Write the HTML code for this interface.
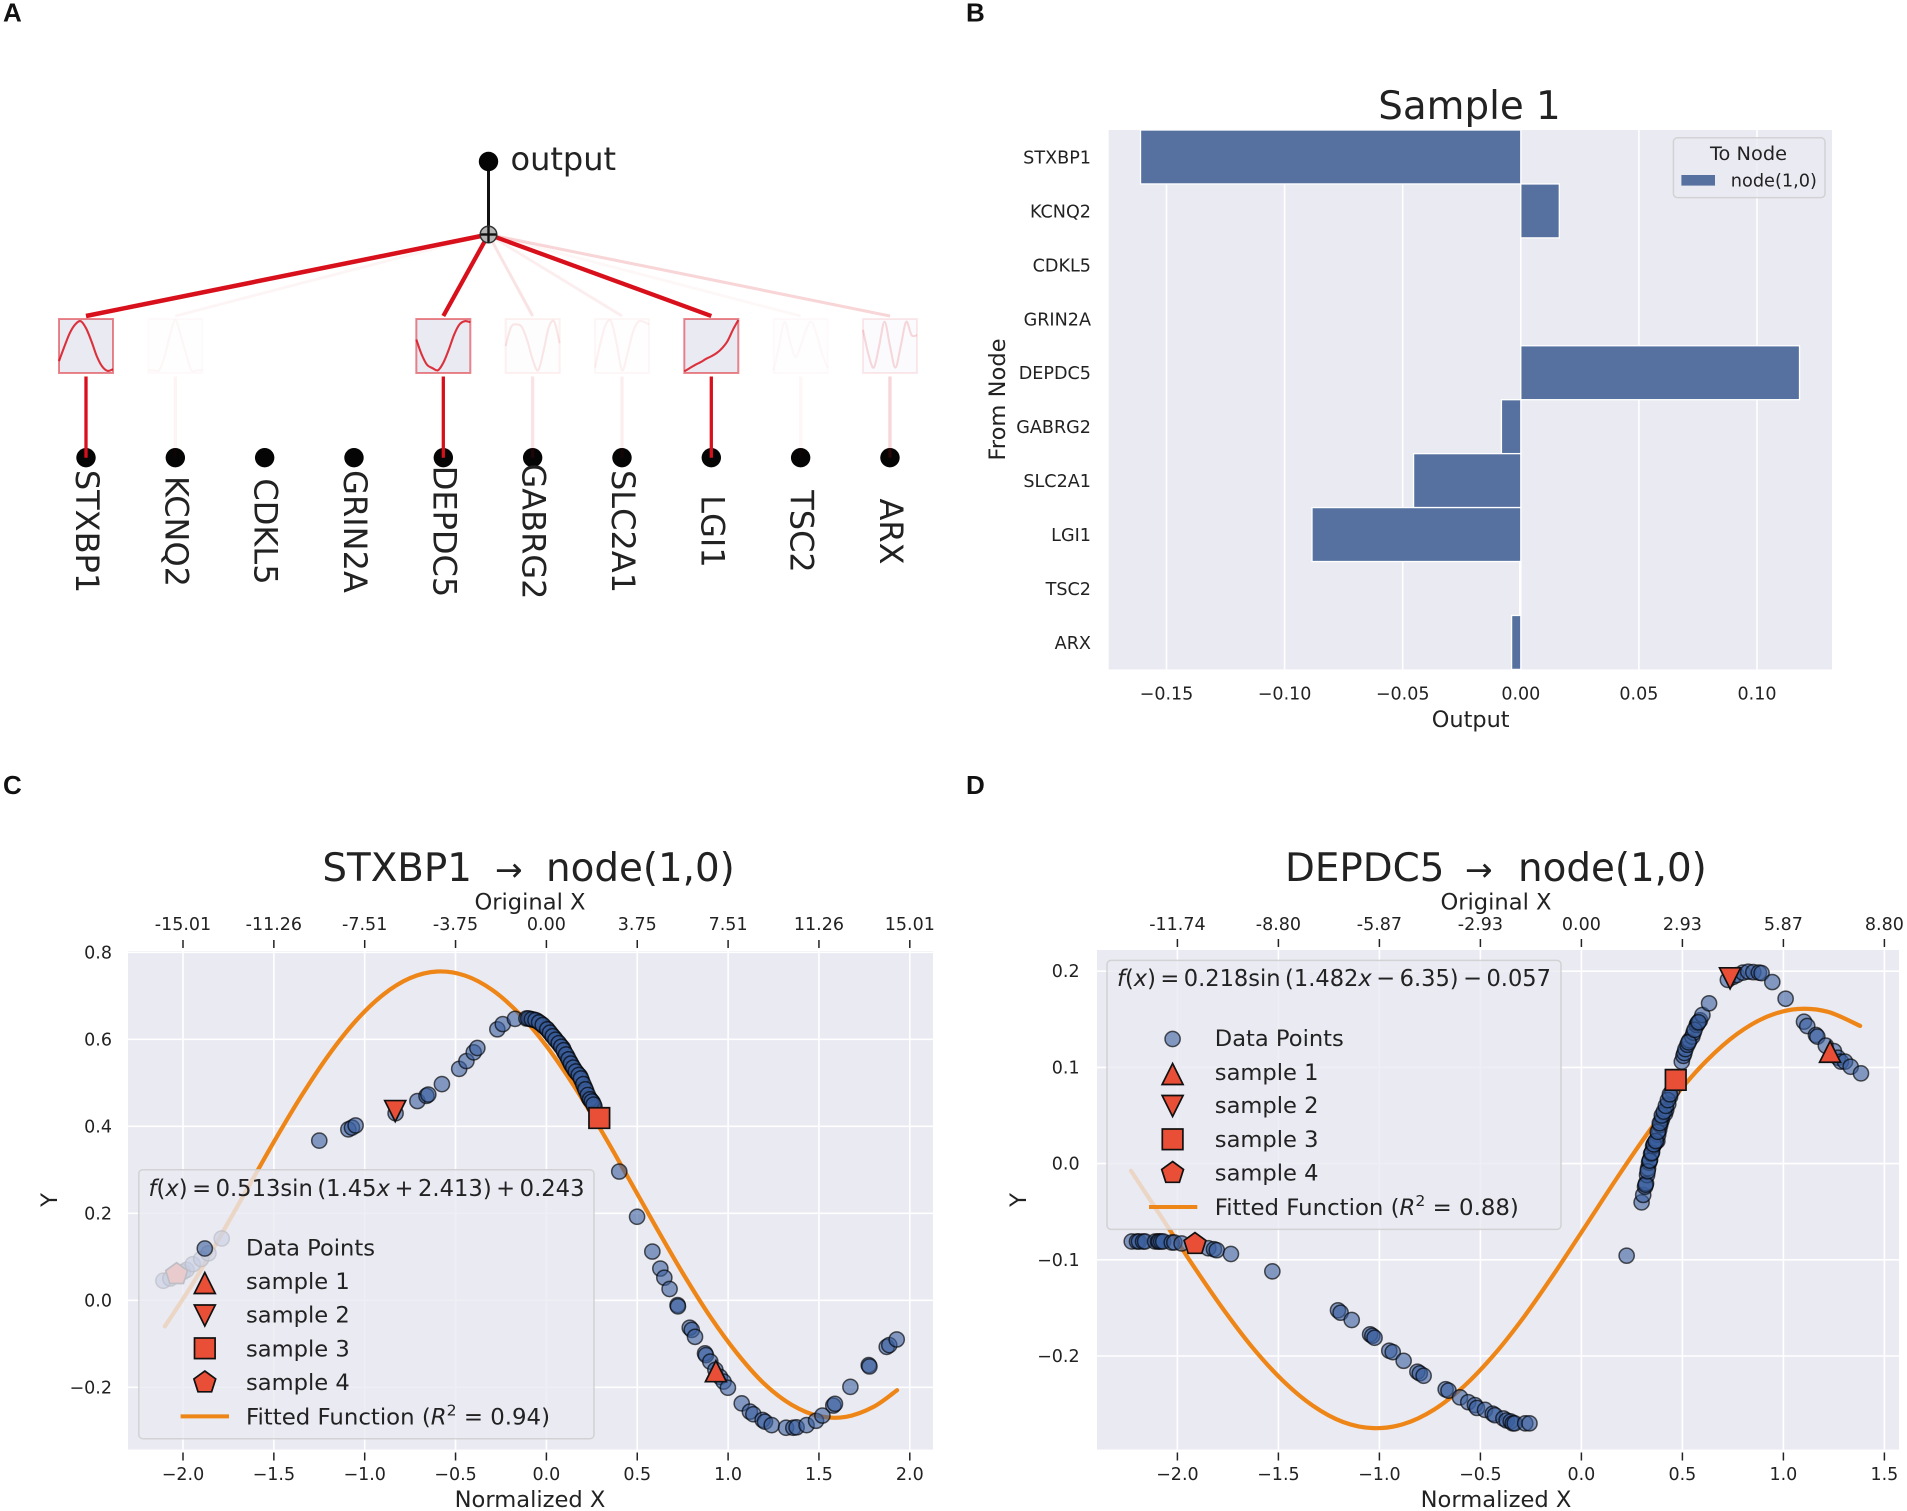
<!DOCTYPE html>
<html lang="en">
<head>
<meta charset="utf-8">
<title>KAN explanation figure</title>
<style>
html,body{margin:0;padding:0;background:#fff;}
svg{display:block;font-family:"DejaVu Sans","Liberation Sans",sans-serif;fill:#222;}
.panel-letter{font-family:"Liberation Sans",sans-serif;font-weight:bold;font-size:26px;fill:#111;}
.t22{font-size:22.6px;}
.title{font-size:38.8px;}
.mk{fill:#e94f37;stroke:#111;stroke-width:1.7;stroke-linejoin:miter;}
</style>
</head>
<body>
<svg id="fig" xmlns="http://www.w3.org/2000/svg" width="1907" height="1511" viewBox="0 0 1907 1511">
  <rect x="0" y="0" width="1907" height="1511" fill="#ffffff"/>
  <text class="panel-letter" x="3" y="21.5">A</text>
  <text class="panel-letter" x="966" y="21.5">B</text>
  <text class="panel-letter" x="3" y="794">C</text>
  <text class="panel-letter" x="966" y="794">D</text>

  <!-- Panel A -->
  <g id="panel-a">
    <g id="a-marks"></g>
    <line x1="488.5" y1="161" x2="488.5" y2="234" stroke="#111" stroke-width="3"/>
    <circle cx="488.5" cy="161.5" r="9.7" fill="#050505"/>
    <text x="510.5" y="170" font-size="32">output</text>
    <g>
      <circle cx="488.5" cy="234.5" r="8.3" fill="#b5b5b5" stroke="#333" stroke-width="1.5"/>
      <line x1="480.5" y1="234.5" x2="496.5" y2="234.5" stroke="#111" stroke-width="2.4"/>
      <line x1="488.5" y1="226.5" x2="488.5" y2="242.5" stroke="#111" stroke-width="2.4"/>
    </g>
  </g>

  <!-- Panel B -->
  <g id="panel-b">
    <text x="1469.5" y="119" text-anchor="middle" font-size="38.8">Sample 1</text>
    <rect x="1108.7" y="130" width="723.3" height="539.4" fill="#eaeaf2"/>
    <g id="b-marks"></g>
    <text x="1470.7" y="727" text-anchor="middle" font-size="22.4">Output</text>
    <text transform="translate(1005,399.5) rotate(-90)" text-anchor="middle" font-size="22.6">From Node</text>
    <g>
      <rect x="1673.4" y="137.8" width="151.6" height="59.8" rx="4" fill="#eaeaf2" fill-opacity="0.8" stroke="#cccccc" stroke-opacity="0.8" stroke-width="1.5"/>
      <text x="1748.5" y="160" text-anchor="middle" font-size="18.5" textLength="77" lengthAdjust="spacingAndGlyphs">To Node</text>
      <rect x="1681.4" y="175" width="33.6" height="10.6" fill="#56719f"/>
      <text x="1730.8" y="186.6" font-size="17.7">node(1,0)</text>
    </g>
  </g>

  <!-- Panel C -->
  <g id="panel-c">
    <text class="title" y="881"><tspan x="322.4">STXBP1</tspan><tspan x="495" font-size="33">→</tspan><tspan x="546">node(1,0)</tspan></text>
    <text class="t22" x="530" y="909.5" text-anchor="middle">Original X</text>
    <text class="t22" x="530" y="1507" text-anchor="middle">Normalized X</text>
    <text class="t22" transform="translate(57,1200) rotate(-90)" text-anchor="middle">Y</text>
    <rect x="128" y="951" width="805" height="498.5" fill="#eaeaf2"/>
    <g id="c-marks"></g>
    <g>
      <rect x="138.8" y="1169.7" width="455.2" height="269" rx="4" fill="#eaeaf2" fill-opacity="0.8" stroke="#cccccc" stroke-opacity="0.8" stroke-width="1.5"/>
      <text x="148.5" y="1196" font-size="23.4" textLength="436" lengthAdjust="spacingAndGlyphs"><tspan font-style="italic">f</tspan>(<tspan font-style="italic">x</tspan>)&#8201;=&#8201;0.513sin&#8201;(1.45<tspan font-style="italic">x</tspan>&#8201;+&#8201;2.413)&#8201;+&#8201;0.243</text>
      <circle cx="204.8" cy="1248.5" r="7.6" fill="#3b5f9f" fill-opacity="0.6" stroke="#000" stroke-opacity="0.65" stroke-width="1.5"/>
      <polygon class="mk" transform="translate(204.8,1283)" points="0,-10.5 10.5,10.5 -10.5,10.5"/>
      <polygon class="mk" transform="translate(204.8,1315.5)" points="0,10.5 10.5,-10.5 -10.5,-10.5"/>
      <rect class="mk" x="194.5" y="1338" width="20.6" height="20.6"/>
      <polygon class="mk" transform="translate(204.8,1382.5)" points="0,-11.5 10.9,-3.6 6.8,9.3 -6.8,9.3 -10.9,-3.6"/>
      <line x1="180.6" y1="1416.4" x2="229" y2="1416.4" stroke="#ee8517" stroke-width="4"/>
      <text class="t22" x="246" y="1255.6">Data Points</text>
      <text class="t22" x="246" y="1289">sample 1</text>
      <text class="t22" x="246" y="1322.7">sample 2</text>
      <text class="t22" x="246" y="1356.3">sample 3</text>
      <text class="t22" x="246" y="1389.9">sample 4</text>
      <text class="t22" x="246" y="1424.4" textLength="304" lengthAdjust="spacingAndGlyphs">Fitted Function (<tspan font-style="italic">R</tspan><tspan dy="-9" font-size="15.5">2</tspan><tspan dy="9"> = 0.94)</tspan></text>
    </g>
  </g>

  <!-- Panel D -->
  <g id="panel-d">
    <text class="title" y="881"><tspan x="1285">DEPDC5</tspan><tspan x="1465" font-size="33">→</tspan><tspan x="1518">node(1,0)</tspan></text>
    <text class="t22" x="1496" y="909.5" text-anchor="middle">Original X</text>
    <text class="t22" x="1496" y="1507" text-anchor="middle">Normalized X</text>
    <text class="t22" transform="translate(1026,1200) rotate(-90)" text-anchor="middle">Y</text>
    <rect x="1097" y="950" width="802" height="499.5" fill="#eaeaf2"/>
    <g id="d-marks"></g>
    <g>
      <rect x="1107" y="960.4" width="454" height="269" rx="4" fill="#eaeaf2" fill-opacity="0.8" stroke="#cccccc" stroke-opacity="0.8" stroke-width="1.5"/>
      <text x="1117" y="986" font-size="23.4" textLength="434" lengthAdjust="spacingAndGlyphs"><tspan font-style="italic">f</tspan>(<tspan font-style="italic">x</tspan>)&#8201;=&#8201;0.218sin&#8201;(1.482<tspan font-style="italic">x</tspan>&#8201;−&#8201;6.35)&#8201;−&#8201;0.057</text>
      <circle cx="1172.6" cy="1039" r="7.6" fill="#3b5f9f" fill-opacity="0.6" stroke="#000" stroke-opacity="0.65" stroke-width="1.5"/>
      <polygon class="mk" transform="translate(1172.6,1074)" points="0,-10.5 10.5,10.5 -10.5,10.5"/>
      <polygon class="mk" transform="translate(1172.6,1106)" points="0,10.5 10.5,-10.5 -10.5,-10.5"/>
      <rect class="mk" x="1162.3" y="1129" width="20.6" height="20.6"/>
      <polygon class="mk" transform="translate(1172.6,1173)" points="0,-11.5 10.9,-3.6 6.8,9.3 -6.8,9.3 -10.9,-3.6"/>
      <line x1="1149" y1="1207" x2="1197.3" y2="1207" stroke="#ee8517" stroke-width="4"/>
      <text class="t22" x="1214.8" y="1045.8">Data Points</text>
      <text class="t22" x="1214.8" y="1079.8">sample 1</text>
      <text class="t22" x="1214.8" y="1113">sample 2</text>
      <text class="t22" x="1214.8" y="1147">sample 3</text>
      <text class="t22" x="1214.8" y="1180.5">sample 4</text>
      <text class="t22" x="1214.8" y="1215" textLength="304" lengthAdjust="spacingAndGlyphs">Fitted Function (<tspan font-style="italic">R</tspan><tspan dy="-9" font-size="15.5">2</tspan><tspan dy="9"> = 0.88)</tspan></text>
    </g>
  </g>
</svg>

<script>
/* ---------- Panel A data ---------- */
const geneNames = ['STXBP1','KCNQ2','CDKL5','GRIN2A','DEPDC5','GABRG2','SLC2A1','LGI1','TSC2','ARX'];
const edgeWeights = [1, 0.035, 0, 0, 0.85, 0.1, 0.06, 0.9, 0.03, 0.15];
const miniCurves = [
  [0.22,0.49,0.74,0.90,0.96,0.83,0.59,0.31,0.12,0.04,0.07],
  [0.05,0.05,0.05,0.30,0.70,0.98,0.70,0.35,0.05,0.05,0.05],
  [],
  [],
  [0.62,0.34,0.15,0.09,0.05,0.19,0.43,0.71,0.90,0.96,0.94],
  [0.50,0.85,0.90,0.85,0.60,0.25,0.05,0.40,0.85,0.95,0.55],
  [0.10,0.55,0.90,0.95,0.55,0.05,0.35,0.75,0.95,0.95,0.90],
  [0.03,0.09,0.15,0.20,0.26,0.31,0.37,0.46,0.59,0.80,0.98],
  [0.05,0.50,0.95,0.60,0.30,0.50,0.80,0.95,0.70,0.35,0.10],
  [0.80,0.35,0.10,0.50,0.95,0.50,0.10,0.50,0.95,0.70,0.70]
];

/* ---------- Panel B data ---------- */
const barCategories = ['STXBP1','KCNQ2','CDKL5','GRIN2A','DEPDC5','GABRG2','SLC2A1','LGI1','TSC2','ARX'];
const barValues = [-0.161, 0.0163, 0, 0, 0.118, -0.0082, -0.0454, -0.0884, -0.0005, -0.0039];
const barTicks = [-0.15, -0.10, -0.05, 0, 0.05, 0.10];
const barTickLabels = ['−0.15','−0.10','−0.05','0.00','0.05','0.10'];

/* ---------- Panel C data ---------- */
const cXTicks = [-2,-1.5,-1,-0.5,0,0.5,1,1.5,2];
const cXTickLabels = ['−2.0','−1.5','−1.0','−0.5','0.0','0.5','1.0','1.5','2.0'];
const cTopTickLabels = ['-15.01','-11.26','-7.51','-3.75','0.00','3.75','7.51','11.26','15.01'];
const cYTicks = [-0.2,0,0.2,0.4,0.6,0.8];
const cYTickLabels = ['−0.2','0.0','0.2','0.4','0.6','0.8'];
const cPointsX = [-2.108,-2.07,-2.035,-2.0,-1.98,-1.946,-1.90,-1.86,-1.787,
  -1.25,-1.09,-1.07,-1.05,-0.83,-0.71,-0.66,-0.65,-0.575,-0.48,-0.44,-0.40,-0.38,-0.27,-0.24,-0.173,
  -0.11,-0.09,-0.07,-0.05,-0.03,-0.015,0,0.015,0.03,0.045,0.06,0.075,0.09,0.10,0.115,0.13,0.14,0.155,0.17,0.185,0.195,0.21,0.22,0.235,0.245,0.255,0.265,
  0.401,0.499,0.583,0.627,0.649,0.678,0.722,0.724,0.789,0.80,0.818,0.873,0.878,0.902,0.93,0.955,0.975,0.999,
  1.075,1.12,1.139,1.19,1.203,1.24,1.319,1.359,1.377,1.432,1.484,1.519,1.579,1.588,1.673,1.774,1.778,1.873,1.887,1.928,
  -0.10,-0.08,-0.06,-0.04,-0.02,0.005,0.02,0.035,0.05,0.068,0.082,0.095,0.108,0.122,0.135,0.148,0.162,0.178,0.19,0.203,0.215,0.228,0.24,0.25,0.26];
const cPointsY = [0.045,0.05,0.06,0.065,0.07,0.083,0.095,0.108,0.142,
  0.367,0.393,0.397,0.402,0.43,0.458,0.47,0.473,0.497,0.532,0.55,0.57,0.58,0.623,0.635,0.647,
  0.648,0.647,0.645,0.642,0.636,0.630,0.625,0.618,0.61,0.603,0.595,0.587,0.58,0.57,0.56,0.548,0.54,0.53,0.522,0.515,0.505,0.49,0.48,0.465,0.46,0.455,0.445,
  0.296,0.192,0.112,0.073,0.052,0.026,-0.011,-0.014,-0.063,-0.068,-0.084,-0.122,-0.126,-0.141,-0.16,-0.176,-0.187,-0.201,
  -0.237,-0.256,-0.262,-0.275,-0.279,-0.287,-0.293,-0.293,-0.292,-0.287,-0.277,-0.265,-0.242,-0.238,-0.199,-0.149,-0.152,-0.107,-0.103,-0.09,
  0.648,0.646,0.644,0.639,0.633,0.623,0.615,0.607,0.599,0.591,0.583,0.575,0.565,0.554,0.544,0.535,0.526,0.518,0.51,0.497,0.485,0.472,0.462,0.457,0.45];
const cFitX = [-2.10,-1.95,-1.80,-1.65,-1.50,-1.35,-1.20,-1.05,-0.90,-0.75,-0.60,-0.45,-0.30,-0.15,0,0.15,0.30,0.45,0.60,0.75,0.90,1.05,1.20,1.35,1.50,1.65,1.80,1.93];
const cFitY = [-0.060,0.036,0.143,0.2535,0.364,0.4687,0.5628,0.6419,0.702,0.7407,0.7558,0.7468,0.714,0.659,0.5845,0.4938,0.3917,0.282,0.1707,0.0628,-0.0365,-0.1223,-0.1923,-0.2402,-0.2662,-0.2678,-0.2451,-0.2067];
const cSampleX = [0.933,-0.832,0.291,-2.035];
const cSampleY = [-0.163,0.435,0.419,0.06];

/* ---------- Panel D data ---------- */
const dXTicks = [-2,-1.5,-1,-0.5,0,0.5,1,1.5];
const dXTickLabels = ['−2.0','−1.5','−1.0','−0.5','0.0','0.5','1.0','1.5'];
const dTopTickLabels = ['-11.74','-8.80','-5.87','-2.93','0.00','2.93','5.87','8.80'];
const dYTicks = [-0.2,-0.1,0,0.1,0.2];
const dYTickLabels = ['−0.2','−0.1','0.0','0.1','0.2'];
const dPointsX = [-2.226,-2.2,-2.19,-2.17,-2.16,-2.11,-2.096,-2.09,-2.08,-2.07,-2.028,-2.015,-1.979,
  -1.847,-1.819,-1.805,-1.735,-1.53,
  -1.205,-1.192,-1.137,-1.046,-1.035,-1.024,-0.951,-0.934,-0.88,-0.812,-0.80,-0.781,-0.672,-0.658,-0.601,-0.56,-0.527,-0.517,-0.477,-0.439,-0.428,-0.386,-0.37,-0.35,-0.34,-0.33,-0.278,-0.257,
  0.224,0.298,0.306,0.315,0.32,0.325,0.33,0.335,0.34,0.345,0.35,0.355,0.36,0.365,0.37,0.376,0.38,0.385,0.39,0.395,0.40,0.414,0.42,0.43,0.439,0.45,
  0.497,0.505,0.51,0.515,0.525,0.535,0.549,0.555,0.571,0.575,0.587,0.599,0.632,
  0.725,0.75,0.769,0.80,0.826,0.851,0.879,0.892,0.945,1.011,1.102,1.118,1.161,1.168,1.21,1.25,1.27,1.285,1.305,1.333,1.384,
  0.318,0.328,0.338,0.348,0.358,0.368,0.378,0.388,0.398,0.408,0.418,0.428,0.438,0.53,0.56,0.58];
const dPointsY = [-0.081,-0.081,-0.081,-0.081,-0.081,-0.081,-0.081,-0.081,-0.081,-0.081,-0.082,-0.082,-0.083,
  -0.088,-0.089,-0.09,-0.094,-0.112,
  -0.1525,-0.155,-0.1626,-0.1775,-0.179,-0.181,-0.1945,-0.196,-0.205,-0.2163,-0.218,-0.2205,-0.2346,-0.236,-0.243,-0.248,-0.251,-0.254,-0.256,-0.26,-0.2615,-0.265,-0.267,-0.268,-0.27,-0.27,-0.27,-0.27,
  -0.0957,-0.0403,-0.0326,-0.024,-0.0205,-0.012,-0.005,0.001,0.004,0.01,0.012,0.018,0.02,0.022,0.023,0.0235,0.03,0.035,0.04,0.044,0.047,0.052,0.056,0.062,0.0696,0.076,
  0.106,0.112,0.115,0.119,0.1235,0.128,0.132,0.136,0.144,0.146,0.149,0.1545,0.1666,
  0.191,0.194,0.196,0.1985,0.1995,0.199,0.1985,0.198,0.1887,0.1714,0.1475,0.143,0.1337,0.132,0.1226,0.117,0.11,0.106,0.106,0.1007,0.0938,
  -0.022,-0.008,0.003,0.011,0.02,0.0235,0.033,0.042,0.05,0.054,0.06,0.066,0.072,0.126,0.139,0.147];
const dFitX = [-2.23,-2.08,-1.93,-1.78,-1.63,-1.48,-1.33,-1.18,-1.03,-0.88,-0.73,-0.58,-0.43,-0.28,-0.13,0.02,0.17,0.32,0.47,0.62,0.77,0.92,1.07,1.22,1.38];
const dFitY = [-0.0074,-0.0553,-0.1035,-0.1493,-0.1907,-0.2252,-0.2516,-0.2686,-0.2750,-0.2707,-0.2558,-0.2312,-0.1981,-0.1581,-0.1129,-0.0651,-0.0169,0.0292,0.0714,0.1070,0.1346,0.1528,0.1607,0.1578,0.1431];
const dSampleX = [1.231,0.736,0.467,-1.913];
const dSampleY = [0.1163,0.1926,0.087,-0.0836];

/* ---------- helpers ---------- */
const SVG_NS = 'http://www.w3.org/2000/svg';
function make(tag, attrs, parent, text) {
  const e = document.createElementNS(SVG_NS, tag);
  for (const k in attrs) e.setAttribute(k, attrs[k]);
  if (text !== undefined) e.textContent = text;
  parent.appendChild(e);
  return e;
}
function linear(v0, p0, perUnit) {
  return function (v) { return p0 + (v - v0) * perUnit; };
}
function smoothPath(px, py) {
  let d = 'M' + px[0].toFixed(2) + ' ' + py[0].toFixed(2);
  for (let i = 0; i < px.length - 1; i++) {
    const a = Math.max(i - 1, 0), b = i + 1, c = Math.min(i + 2, px.length - 1);
    const c1x = px[i] + (px[b] - px[a]) / 6, c1y = py[i] + (py[b] - py[a]) / 6;
    const c2x = px[b] - (px[c] - px[i]) / 6, c2y = py[b] - (py[c] - py[i]) / 6;
    d += 'C' + c1x.toFixed(2) + ' ' + c1y.toFixed(2) + ' ' + c2x.toFixed(2) + ' ' + c2y.toFixed(2) + ' ' + px[b].toFixed(2) + ' ' + py[b].toFixed(2);
  }
  return d;
}

/* ---------- Panel A drawing ---------- */
(function drawNetwork() {
  const g = document.getElementById('a-marks');
  const RED = '#d8101c';
  const nodeX = function (i) { return 86 + i * 89.33; };
  const nodeY = 457.7, boxTop = 319, boxBottom = 373, boxSize = 54;
  geneNames.forEach(function (name, i) {
    const cx = nodeX(i), w = edgeWeights[i];
    const alpha = Math.min(1, w * 1.18);
    if (w > 0) {
      const upper = make('line', {x1: cx, y1: 316, x2: 488.5, y2: 234.5, stroke: RED, 'stroke-opacity': alpha, 'stroke-width': 2.8 + 1.7 * w}, g);
      
      
      const box = make('rect', {x: cx - boxSize / 2, y: boxTop, width: boxSize, height: boxSize, fill: '#eaeaf2', 'fill-opacity': alpha, stroke: RED, 'stroke-opacity': alpha * 0.5, 'stroke-width': 2}, g);
      
      
      const curve = miniCurves[i];
      const n = curve.length;
      const curveX = curve.map(function (v, k) { return cx - boxSize / 2 + k / (n - 1) * boxSize; });
      const curveY = curve.map(function (v) { return boxBottom - v * boxSize; });
      const spark = make('path', {d: smoothPath(curveX, curveY), fill: 'none', stroke: RED, 'stroke-opacity': alpha * 0.85, 'stroke-width': 2.1, 'stroke-linejoin': 'round'}, g);
      
      
    }
    const dot = make('circle', {cx: cx, cy: nodeY, r: 9.7, fill: '#050505'}, g);
    
    
    if (w > 0) {
      const lower = make('line', {x1: cx, y1: 376.5, x2: cx, y2: nodeY, stroke: RED, 'stroke-opacity': alpha, 'stroke-width': 3.3}, g);
      
      
    }
    const label = make('text', {transform: 'translate(' + (cx - 10) + ',531.5) rotate(90)', 'text-anchor': 'middle', 'font-size': 32}, g, name);
    
    
  });
})();

/* ---------- Panel B drawing ---------- */
(function drawBars() {
  const g = document.getElementById('b-marks');
  const x = linear(0, 1520.8, 2362);
  const top = 130, band = 53.94, bottom = 669.4;
  barTicks.forEach(function (t, i) {
    const grid = make('line', {x1: x(t), x2: x(t), y1: top, y2: bottom, stroke: '#fff', 'stroke-width': 1.6}, g);
    
    
    const lab = make('text', {x: x(t), y: 699.5, 'text-anchor': 'middle', 'font-size': 17.5}, g, barTickLabels[i]);
    
    
  });
  barCategories.forEach(function (name, i) {
    const v = barValues[i];
    const bar = make('rect', {x: Math.min(x(0), x(v)), y: top + i * band, width: Math.abs(x(v) - x(0)), height: band, fill: '#56719f', stroke: '#fff', 'stroke-width': 1.3}, g);
    
    
    const lab = make('text', {x: 1091, y: top + (i + 0.5) * band + 6.5, 'text-anchor': 'end', 'font-size': 17.6}, g, name);
    
    
  });
})();

/* ---------- Panels C, D drawing ---------- */
function drawScatter(id, prefix, box, xMap, yMap, xTicks, xLabels, topLabels, yTicks, yLabels, pointsX, pointsY, fitX, fitY, sampleX, sampleY, yLabelRight) {
  const g = document.getElementById(id);
  const x = linear(0, xMap[0], xMap[1]);
  const y = linear(0, yMap[0], -yMap[1]);
  xTicks.forEach(function (t, i) {
    const px = x(t);
    const grid = make('line', {x1: px, x2: px, y1: box.top, y2: box.bottom, stroke: '#fff', 'stroke-width': 1.6}, g);
    
    
    const t1 = make('line', {x1: px, x2: px, y1: box.bottom + 3, y2: box.bottom + 11, stroke: '#222', 'stroke-width': 1.5}, g);
    
    
    const t2 = make('line', {x1: px, x2: px, y1: box.top - 11, y2: box.top - 3, stroke: '#222', 'stroke-width': 1.5}, g);
    
    
    const l1 = make('text', {x: px, y: 1480, 'text-anchor': 'middle', 'font-size': 17.5}, g, xLabels[i]);
    
    
    const l2 = make('text', {x: px, y: 930, 'text-anchor': 'middle', 'font-size': 17.5}, g, topLabels[i]);
    
    
  });
  yTicks.forEach(function (t, i) {
    const py = y(t);
    const grid = make('line', {x1: box.left, x2: box.right, y1: py, y2: py, stroke: '#fff', 'stroke-width': 1.6}, g);
    
    
    const l = make('text', {x: yLabelRight, y: py + 6, 'text-anchor': 'end', 'font-size': 17.5}, g, yLabels[i]);
    
    
  });
  const fit = make('path', {d: smoothPath(fitX.map(x), fitY.map(y)), fill: 'none', stroke: '#ee8517', 'stroke-width': 4.2, 'stroke-linecap': 'round'}, g);
  
  
  pointsX.forEach(function (v, i) {
    const c = make('circle', {cx: x(v), cy: y(pointsY[i]), r: 7.6, fill: '#3b5f9f', 'fill-opacity': 0.6, stroke: '#000', 'stroke-opacity': 0.65, 'stroke-width': 1.5}, g);
    
    
  });
  const shapes = ['0,-10.5 10.5,10.5 -10.5,10.5', '0,10.5 10.5,-10.5 -10.5,-10.5', '-10.3,-10.3 10.3,-10.3 10.3,10.3 -10.3,10.3', '0,-11.5 10.9,-3.6 6.8,9.3 -6.8,9.3 -10.9,-3.6'];
  sampleX.forEach(function (v, i) {
    const m = make('polygon', {'class': 'mk', points: shapes[i], transform: 'translate(' + x(v) + ',' + y(sampleY[i]) + ')'}, g);
    
    
  });
}
drawScatter('c-marks', 'stxbp1', {left: 128, right: 933, top: 951, bottom: 1449.5}, [546.4, 181.7], [1300.3, 435],
  cXTicks, cXTickLabels, cTopTickLabels, cYTicks, cYTickLabels, cPointsX, cPointsY, cFitX, cFitY, cSampleX, cSampleY, 112);
drawScatter('d-marks', 'depdc5', {left: 1097, right: 1899, top: 950, bottom: 1449.5}, [1581.4, 202], [1163.6, 962],
  dXTicks, dXTickLabels, dTopTickLabels, dYTicks, dYTickLabels, dPointsX, dPointsY, dFitX, dFitY, dSampleX, dSampleY, 1079.6);
</script>
</body>
</html>
